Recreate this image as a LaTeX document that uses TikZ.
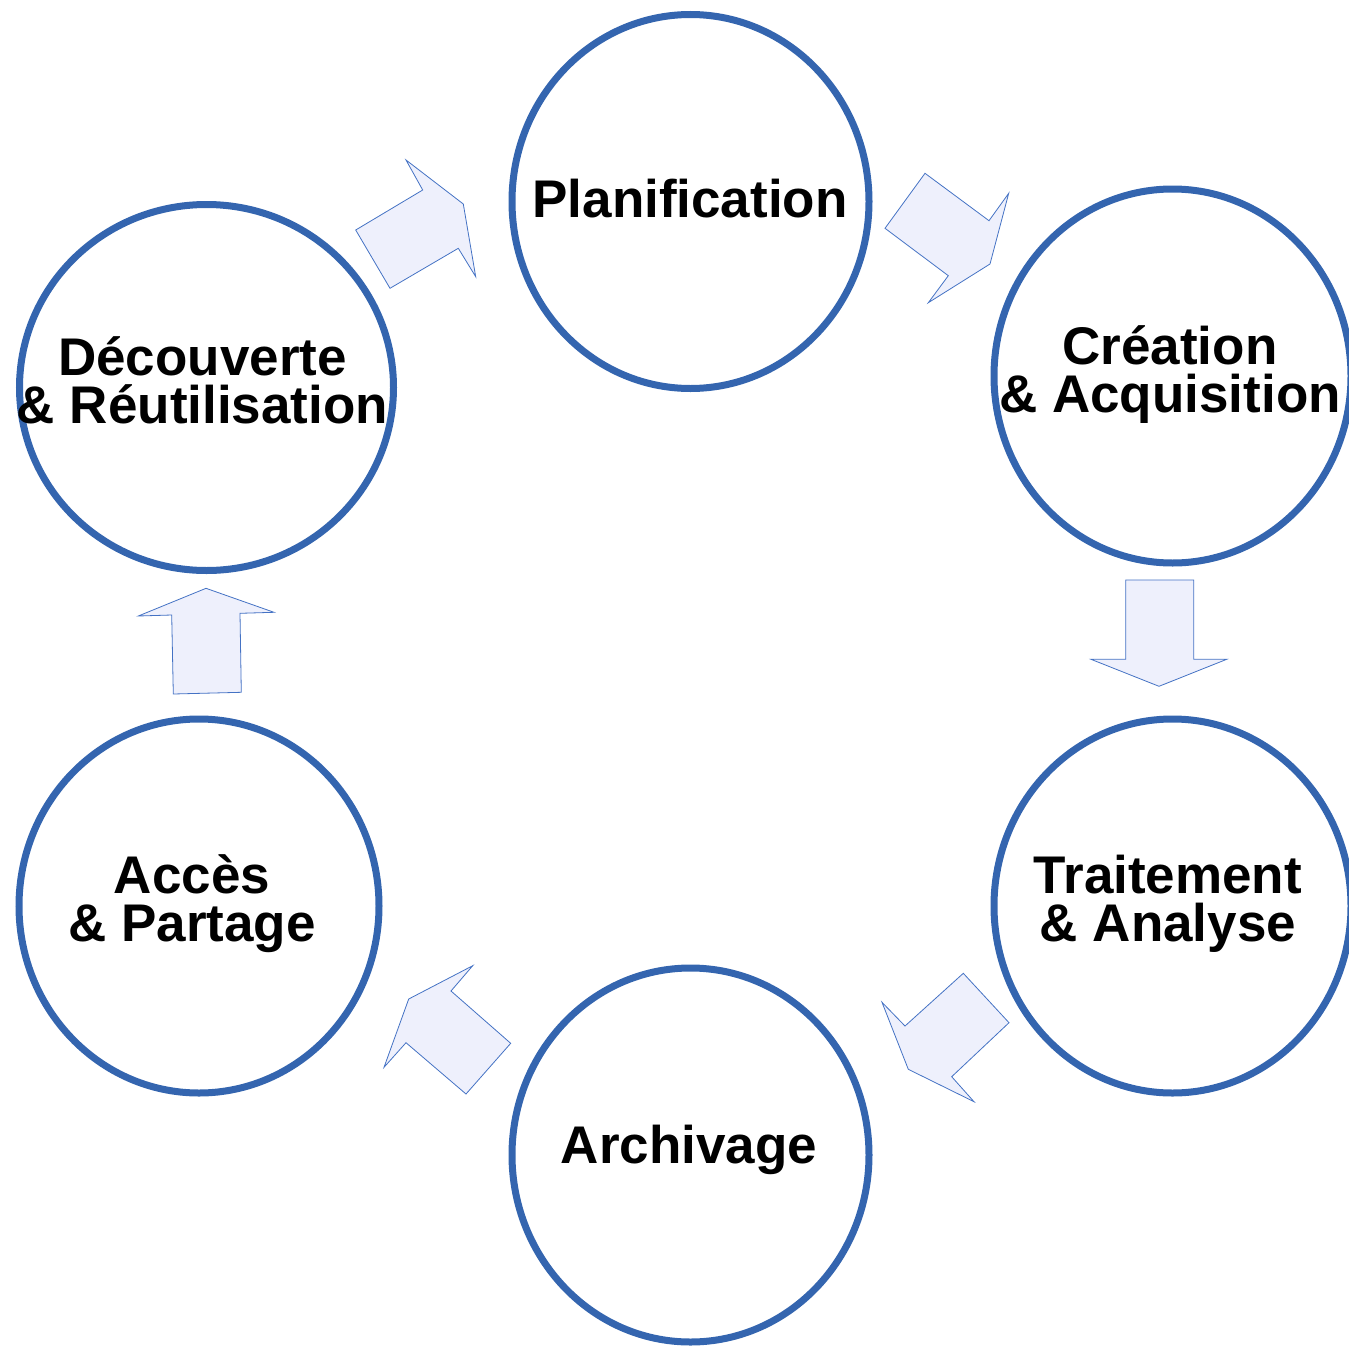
\documentclass[tikz,border=0pt]{standalone}
\usepackage{fontspec}
\setmainfont{Liberation Sans}
\usepackage{tikz}
\usetikzlibrary{shapes.geometric}
\usepackage{xcolor}
\definecolor{ringblue}{RGB}{52,101,175}
\definecolor{arrowfill}{RGB}{238,240,252}
\definecolor{arrowline}{RGB}{68,114,196}

\begin{document}
\begin{tikzpicture}[x=1pt, y=-1pt,
    phase/.style={draw=ringblue, line width=7pt, ellipse, inner sep=0pt,
        minimum width=357pt, minimum height=374pt},
    phasetext/.style={font=\bfseries\fontsize{53}{48}\selectfont, align=center,
        anchor=base, inner sep=0pt},
    blockarrow/.style={draw=arrowline, fill=arrowfill, line width=0.8pt, line join=miter}]
    \useasboundingbox (0,0) rectangle (1349,1346);

    % Cycle stages
    \node[phase] (plan) at (690.5,201.5) {};
    \node[phase] (creation) at (1172.5,376) {};
    \node[phase] (traitement) at (1172.5,906) {};
    \node[phase] (archivage) at (690.5,1155) {};
    \node[phase, minimum width=360pt] (acces) at (199,906) {};
    \node[phase, minimum width=374pt, minimum height=366pt] (decouverte) at (206.5,387.5) {};

    % Labels (base = last line)
    \node[phasetext] (plan-txt) at (690,217) {Planification};
    \node[phasetext] (creation-txt) at (1170,412) {Création\\\& Acquisition};
    \node[phasetext] (traitement-txt) at (1168,941.5) {Traitement\\\& Analyse};
    \node[phasetext] (archivage-txt) at (689,1163) {Archivage};
    \node[phasetext] (acces-txt) at (192,941.5) {Accès\\\& Partage};
    \node[phasetext] (decouverte-txt) at (202.5,423) {Découverte\\\& Réutilisation};

    % Block arrows between stages
    \draw[blockarrow] (925,173.3) -- (989,220.7) -- (1008.7,193.3) -- (990,264)
        -- (928.3,302.7) -- (948.3,275.7) -- (885,228.3) -- cycle;
    \draw[blockarrow] (1125.7,580) -- (1193.7,580) -- (1193.7,659.3) -- (1226.7,659.3)
        -- (1159,686.3) -- (1091,659.3) -- (1125.7,659.3) -- cycle;
    \draw[blockarrow] (963.3,973.3) -- (1009,1022.7) -- (951.7,1076.7) -- (974,1101.7)
        -- (908.3,1069.3) -- (882,1002.3) -- (905,1026) -- cycle;
    \draw[blockarrow] (472.7,965.7) -- (451,991) -- (510.7,1043.3) -- (466,1094)
        -- (406,1042.7) -- (384,1067.3) -- (408.7,999) -- cycle;
    \draw[blockarrow] (206,588.3) -- (274,612.3) -- (240,613.3) -- (241.3,692.3)
        -- (173.3,694) -- (171.7,615) -- (138.3,616) -- cycle;
    \draw[blockarrow] (355.7,230) -- (422.7,190) -- (406,160) -- (463.3,204)
        -- (475.7,276.7) -- (458.3,248.3) -- (390,288.3) -- cycle;
\end{tikzpicture}
\end{document}
